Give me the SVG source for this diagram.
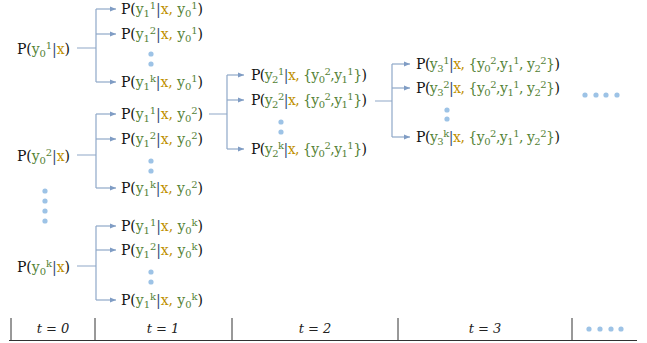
<svg xmlns="http://www.w3.org/2000/svg" width="647" height="343" viewBox="0 0 647 343">
<style>
.t{font-family:"DejaVu Serif","Liberation Serif",serif;font-size:14px;fill:#111}
.g{fill:#548235}.o{fill:#BF9000}.b{fill:#2F4A7A}
.s{font-size:10px}
.ln{fill:none;stroke:#8FA8C8;stroke-width:1.2}
.ar{fill:none;stroke:#8FA8C8;stroke-width:1.2;marker-end:url(#ah)}
.dot{fill:#9DC3E6}
.tl{fill:none;stroke:#333;stroke-width:1}
.tt{font-family:"DejaVu Serif","Liberation Serif",serif;font-size:13px;font-style:italic;fill:#222;text-anchor:middle}
</style>
<defs>
<marker id="ah" markerWidth="6" markerHeight="6" refX="6" refY="3" orient="auto" markerUnits="userSpaceOnUse"><path d="M0,0.5 L6,3 L0,5.5Z" fill="#7F9CC4"/></marker>
</defs>
<rect width="647" height="343" fill="#fff"/>

<g id="connectors">
<path class="ln" d="M77,48H96M96,9V82"/>
<path class="ar" d="M96,9H116"/><path class="ar" d="M96,34H116"/><path class="ar" d="M96,82H116"/>
<path class="ln" d="M77,155H96M96,114V188"/>
<path class="ar" d="M96,114H116"/><path class="ar" d="M96,139H116"/><path class="ar" d="M96,188H116"/>
<path class="ln" d="M77,266H96M96,226V300"/>
<path class="ar" d="M96,226H116"/><path class="ar" d="M96,250H116"/><path class="ar" d="M96,300H116"/>
<path class="ln" d="M209,114H227M227,75V149"/>
<path class="ar" d="M227,75H244"/><path class="ar" d="M227,100H244"/><path class="ar" d="M227,149H244"/>
<path class="ln" d="M375,101H392M392,64V137"/>
<path class="ar" d="M392,64H410"/><path class="ar" d="M392,88H410"/><path class="ar" d="M392,137H410"/>
</g>

<g id="dots">
<circle class="dot" cx="151" cy="54" r="2.6"/><circle class="dot" cx="151" cy="64" r="2.6"/>
<circle class="dot" cx="151" cy="161" r="2.6"/><circle class="dot" cx="151" cy="171" r="2.6"/>
<circle class="dot" cx="151" cy="272" r="2.6"/><circle class="dot" cx="151" cy="282" r="2.6"/>
<circle class="dot" cx="45" cy="191" r="2.6"/><circle class="dot" cx="45" cy="201" r="2.6"/><circle class="dot" cx="45" cy="211" r="2.6"/><circle class="dot" cx="45" cy="221" r="2.6"/>
<circle class="dot" cx="281" cy="122" r="2.6"/><circle class="dot" cx="281" cy="132" r="2.6"/>
<circle class="dot" cx="447" cy="110" r="2.6"/><circle class="dot" cx="447" cy="119" r="2.6"/>
<circle class="dot" cx="585" cy="95" r="2.6"/><circle class="dot" cx="596" cy="95" r="2.6"/><circle class="dot" cx="606" cy="95" r="2.6"/><circle class="dot" cx="617" cy="95" r="2.6"/>
</g>

<g id="n0-1"><text class="t" x="17" y="54" textLength="53" lengthAdjust="spacing">P(<tspan class="g">y<tspan class="s" dy="3">0</tspan><tspan class="s" dy="-8">1</tspan></tspan><tspan class="b" dy="5">|</tspan><tspan class="o">x</tspan>)</text></g>
<g id="n0-2"><text class="t" x="17" y="161" textLength="53" lengthAdjust="spacing">P(<tspan class="g">y<tspan class="s" dy="3">0</tspan><tspan class="s" dy="-8">2</tspan></tspan><tspan class="b" dy="5">|</tspan><tspan class="o">x</tspan>)</text></g>
<g id="n0-k"><text class="t" x="17" y="272" textLength="53" lengthAdjust="spacing">P(<tspan class="g">y<tspan class="s" dy="3">0</tspan><tspan class="s" dy="-8">k</tspan></tspan><tspan class="b" dy="5">|</tspan><tspan class="o">x</tspan>)</text></g>

<g id="n1-1-1"><text class="t" x="121" y="14" textLength="82" lengthAdjust="spacing">P(<tspan class="g">y<tspan class="s" dy="3">1</tspan><tspan class="s" dy="-8">1</tspan></tspan><tspan class="b" dy="5">|</tspan><tspan class="o">x,</tspan><tspan class="g"> y<tspan class="s" dy="3">0</tspan><tspan class="s" dy="-8">1</tspan></tspan><tspan dy="5">)</tspan></text></g>
<g id="n1-1-2"><text class="t" x="121" y="39" textLength="82" lengthAdjust="spacing">P(<tspan class="g">y<tspan class="s" dy="3">1</tspan><tspan class="s" dy="-8">2</tspan></tspan><tspan class="b" dy="5">|</tspan><tspan class="o">x,</tspan><tspan class="g"> y<tspan class="s" dy="3">0</tspan><tspan class="s" dy="-8">1</tspan></tspan><tspan dy="5">)</tspan></text></g>
<g id="n1-1-k"><text class="t" x="121" y="87" textLength="82" lengthAdjust="spacing">P(<tspan class="g">y<tspan class="s" dy="3">1</tspan><tspan class="s" dy="-8">k</tspan></tspan><tspan class="b" dy="5">|</tspan><tspan class="o">x,</tspan><tspan class="g"> y<tspan class="s" dy="3">0</tspan><tspan class="s" dy="-8">1</tspan></tspan><tspan dy="5">)</tspan></text></g>

<g id="n1-2-1"><text class="t" x="121" y="119" textLength="82" lengthAdjust="spacing">P(<tspan class="g">y<tspan class="s" dy="3">1</tspan><tspan class="s" dy="-8">1</tspan></tspan><tspan class="b" dy="5">|</tspan><tspan class="o">x,</tspan><tspan class="g"> y<tspan class="s" dy="3">0</tspan><tspan class="s" dy="-8">2</tspan></tspan><tspan dy="5">)</tspan></text></g>
<g id="n1-2-2"><text class="t" x="121" y="144" textLength="82" lengthAdjust="spacing">P(<tspan class="g">y<tspan class="s" dy="3">1</tspan><tspan class="s" dy="-8">2</tspan></tspan><tspan class="b" dy="5">|</tspan><tspan class="o">x,</tspan><tspan class="g"> y<tspan class="s" dy="3">0</tspan><tspan class="s" dy="-8">2</tspan></tspan><tspan dy="5">)</tspan></text></g>
<g id="n1-2-k"><text class="t" x="121" y="193" textLength="82" lengthAdjust="spacing">P(<tspan class="g">y<tspan class="s" dy="3">1</tspan><tspan class="s" dy="-8">k</tspan></tspan><tspan class="b" dy="5">|</tspan><tspan class="o">x,</tspan><tspan class="g"> y<tspan class="s" dy="3">0</tspan><tspan class="s" dy="-8">2</tspan></tspan><tspan dy="5">)</tspan></text></g>

<g id="n1-k-1"><text class="t" x="121" y="231" textLength="82" lengthAdjust="spacing">P(<tspan class="g">y<tspan class="s" dy="3">1</tspan><tspan class="s" dy="-8">1</tspan></tspan><tspan class="b" dy="5">|</tspan><tspan class="o">x,</tspan><tspan class="g"> y<tspan class="s" dy="3">0</tspan><tspan class="s" dy="-8">k</tspan></tspan><tspan dy="5">)</tspan></text></g>
<g id="n1-k-2"><text class="t" x="121" y="255" textLength="82" lengthAdjust="spacing">P(<tspan class="g">y<tspan class="s" dy="3">1</tspan><tspan class="s" dy="-8">2</tspan></tspan><tspan class="b" dy="5">|</tspan><tspan class="o">x,</tspan><tspan class="g"> y<tspan class="s" dy="3">0</tspan><tspan class="s" dy="-8">k</tspan></tspan><tspan dy="5">)</tspan></text></g>
<g id="n1-k-k"><text class="t" x="121" y="305" textLength="82" lengthAdjust="spacing">P(<tspan class="g">y<tspan class="s" dy="3">1</tspan><tspan class="s" dy="-8">k</tspan></tspan><tspan class="b" dy="5">|</tspan><tspan class="o">x,</tspan><tspan class="g"> y<tspan class="s" dy="3">0</tspan><tspan class="s" dy="-8">k</tspan></tspan><tspan dy="5">)</tspan></text></g>

<g id="n2-1"><text class="t" x="251" y="80" textLength="116" lengthAdjust="spacing">P(<tspan class="g">y<tspan class="s" dy="3">2</tspan><tspan class="s" dy="-8">1</tspan></tspan><tspan class="b" dy="5">|</tspan><tspan class="o">x,</tspan><tspan class="g"> {y<tspan class="s" dy="3">0</tspan><tspan class="s" dy="-8">2</tspan><tspan dy="5">,y</tspan><tspan class="s" dy="3">1</tspan><tspan class="s" dy="-8">1</tspan><tspan dy="5">}</tspan></tspan>)</text></g>
<g id="n2-2"><text class="t" x="251" y="105" textLength="116" lengthAdjust="spacing">P(<tspan class="g">y<tspan class="s" dy="3">2</tspan><tspan class="s" dy="-8">2</tspan></tspan><tspan class="b" dy="5">|</tspan><tspan class="o">x,</tspan><tspan class="g"> {y<tspan class="s" dy="3">0</tspan><tspan class="s" dy="-8">2</tspan><tspan dy="5">,y</tspan><tspan class="s" dy="3">1</tspan><tspan class="s" dy="-8">1</tspan><tspan dy="5">}</tspan></tspan>)</text></g>
<g id="n2-k"><text class="t" x="251" y="154" textLength="116" lengthAdjust="spacing">P(<tspan class="g">y<tspan class="s" dy="3">2</tspan><tspan class="s" dy="-8">k</tspan></tspan><tspan class="b" dy="5">|</tspan><tspan class="o">x,</tspan><tspan class="g"> {y<tspan class="s" dy="3">0</tspan><tspan class="s" dy="-8">2</tspan><tspan dy="5">,y</tspan><tspan class="s" dy="3">1</tspan><tspan class="s" dy="-8">1</tspan><tspan dy="5">}</tspan></tspan>)</text></g>

<g id="n3-1"><text class="t" x="416" y="69" textLength="144" lengthAdjust="spacing">P(<tspan class="g">y<tspan class="s" dy="3">3</tspan><tspan class="s" dy="-8">1</tspan></tspan><tspan class="b" dy="5">|</tspan><tspan class="o">x,</tspan><tspan class="g"> {y<tspan class="s" dy="3">0</tspan><tspan class="s" dy="-8">2</tspan><tspan dy="5">,y</tspan><tspan class="s" dy="3">1</tspan><tspan class="s" dy="-8">1</tspan><tspan dy="5">, y</tspan><tspan class="s" dy="3">2</tspan><tspan class="s" dy="-8">2</tspan><tspan dy="5">}</tspan></tspan>)</text></g>
<g id="n3-2"><text class="t" x="416" y="93" textLength="144" lengthAdjust="spacing">P(<tspan class="g">y<tspan class="s" dy="3">3</tspan><tspan class="s" dy="-8">2</tspan></tspan><tspan class="b" dy="5">|</tspan><tspan class="o">x,</tspan><tspan class="g"> {y<tspan class="s" dy="3">0</tspan><tspan class="s" dy="-8">2</tspan><tspan dy="5">,y</tspan><tspan class="s" dy="3">1</tspan><tspan class="s" dy="-8">1</tspan><tspan dy="5">, y</tspan><tspan class="s" dy="3">2</tspan><tspan class="s" dy="-8">2</tspan><tspan dy="5">}</tspan></tspan>)</text></g>
<g id="n3-k"><text class="t" x="416" y="142" textLength="144" lengthAdjust="spacing">P(<tspan class="g">y<tspan class="s" dy="3">3</tspan><tspan class="s" dy="-8">k</tspan></tspan><tspan class="b" dy="5">|</tspan><tspan class="o">x,</tspan><tspan class="g"> {y<tspan class="s" dy="3">0</tspan><tspan class="s" dy="-8">2</tspan><tspan dy="5">,y</tspan><tspan class="s" dy="3">1</tspan><tspan class="s" dy="-8">1</tspan><tspan dy="5">, y</tspan><tspan class="s" dy="3">2</tspan><tspan class="s" dy="-8">2</tspan><tspan dy="5">}</tspan></tspan>)</text></g>

<g id="timeline">
<path class="tl" d="M9,340.5H637M11,318V340M95,318V340M232,318V340M398,318V340M572,318V340"/>
<text class="tt" x="53" y="333">t = 0</text>
<text class="tt" x="163" y="333">t = 1</text>
<text class="tt" x="315" y="333">t = 2</text>
<text class="tt" x="485" y="333">t = 3</text>
<circle class="dot" cx="589" cy="329" r="2.6"/><circle class="dot" cx="600" cy="329" r="2.6"/><circle class="dot" cx="611" cy="329" r="2.6"/><circle class="dot" cx="621" cy="329" r="2.6"/>
</g>
</svg>
